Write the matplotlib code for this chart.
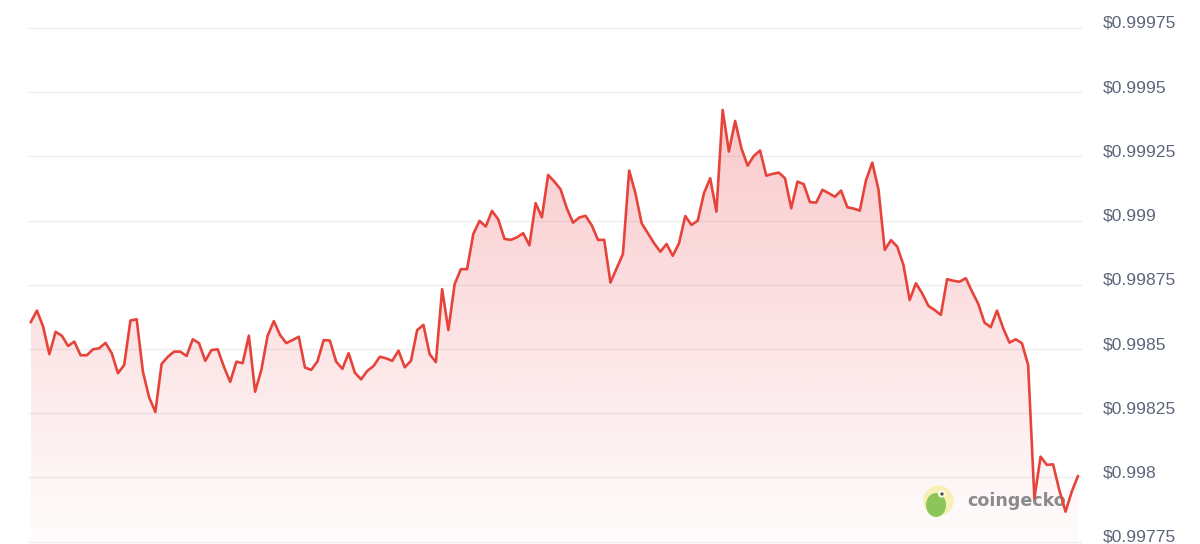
import numpy as np
import matplotlib
matplotlib.use("Agg")
import matplotlib.pyplot as plt
import matplotlib.transforms as mtransforms
from matplotlib.patches import Circle, Ellipse, Polygon

# ---- data ----
prices = [
    0.998604, 0.998650, 0.998587, 0.998480, 0.998567, 0.998552, 0.998512, 0.998529, 0.998476, 0.998476,
    0.998499, 0.998503, 0.998524, 0.998484, 0.998406, 0.998438, 0.998611, 0.998616, 0.998412, 0.998312,
    0.998255, 0.998442, 0.998470, 0.998490, 0.998490, 0.998473, 0.998538, 0.998523, 0.998454, 0.998496,
    0.998499, 0.998431, 0.998372, 0.998451, 0.998445, 0.998552, 0.998334, 0.998419, 0.998551, 0.998609,
    0.998555, 0.998523, 0.998535, 0.998548, 0.998428, 0.998419, 0.998452, 0.998535, 0.998533, 0.998451,
    0.998423, 0.998484, 0.998408, 0.998382, 0.998415, 0.998434, 0.998470, 0.998464, 0.998454, 0.998494,
    0.998429, 0.998454, 0.998574, 0.998594, 0.998480, 0.998449, 0.998733, 0.998574, 0.998752, 0.998811,
    0.998811, 0.998948, 0.998999, 0.998977, 0.999038, 0.999005, 0.998929, 0.998925, 0.998935, 0.998951,
    0.998904, 0.999068, 0.999013, 0.999178, 0.999152, 0.999122, 0.999048, 0.998992, 0.999012, 0.999019,
    0.998982, 0.998925, 0.998925, 0.998759, 0.998815, 0.998870, 0.999195, 0.999107, 0.998990, 0.998951,
    0.998912, 0.998879, 0.998909, 0.998863, 0.998912, 0.999018, 0.998983, 0.999000, 0.999107, 0.999165,
    0.999035, 0.999431, 0.999269, 0.999388, 0.999282, 0.999214, 0.999252, 0.999273, 0.999175, 0.999182,
    0.999187, 0.999165, 0.999048, 0.999152, 0.999142, 0.999072, 0.999070, 0.999120, 0.999107, 0.999093,
    0.999117, 0.999052, 0.999047, 0.999039, 0.999158, 0.999226, 0.999120, 0.998886, 0.998924, 0.998899,
    0.998827, 0.998691, 0.998756, 0.998717, 0.998668, 0.998652, 0.998633, 0.998772, 0.998766, 0.998762,
    0.998776, 0.998724, 0.998676, 0.998603, 0.998585, 0.998650, 0.998581, 0.998525, 0.998538, 0.998523,
    0.998438, 0.997919, 0.998081, 0.998049, 0.998051, 0.997951, 0.997867, 0.997945, 0.998006,
]
tick_values = [0.99775, 0.998, 0.99825, 0.9985, 0.99875, 0.999, 0.99925, 0.9995, 0.99975]
tick_labels = ["\\$0.99775", "\\$0.998", "\\$0.99825", "\\$0.9985", "\\$0.99875",
               "\\$0.999", "\\$0.99925", "\\$0.9995", "\\$0.99975"]
watermark = "coingecko"

# ---- styling ----
LINE_COLOR = "#e6443b"
FILL_RGB = (234 / 255, 57 / 255, 67 / 255)
GRID_COLOR = "#eeeeee"
LABEL_COLOR = "#5b6679"

W, H = 1200, 544
fig = plt.figure(figsize=(W / 100, H / 100), dpi=100)
fig.patch.set_facecolor("white")
ax = fig.add_axes([28 / W, 0, 1054 / W, 1])
ax.set_facecolor("white")

x = np.arange(len(prices))
ylo, yhi = 0.997741, 0.999859
xlo, xhi = -0.43, len(prices) - 1 + 0.64

# gradient fill under the line
verts = [(x[0], ylo)] + list(zip(x, prices)) + [(x[-1], ylo)]
poly = Polygon(verts, closed=True, facecolor="none", edgecolor="none")
ax.add_patch(poly)
n = 256
grad = np.zeros((n, 1, 4))
grad[:, :, 0], grad[:, :, 1], grad[:, :, 2] = FILL_RGB
grad[:, 0, 3] = np.linspace(0.27, 0.015, n)
im = ax.imshow(grad, aspect="auto", extent=[x[0], x[-1], ylo, max(prices)],
               origin="upper", zorder=1, interpolation="bilinear")
im.set_clip_path(poly)

# watermark (under the line)
tr = fig.dpi_scale_trans
ax.add_patch(Circle((9.383, (H - 500.7) / 100), 0.152, transform=tr,
                    facecolor="#f7f0b4", edgecolor="none", zorder=1.5))
ax.add_patch(Ellipse((9.36, (H - 505) / 100), 0.2, 0.24, transform=tr,
                     facecolor="#8cc65a", edgecolor="none", zorder=1.6))
ax.add_patch(Circle((9.415, (H - 494) / 100), 0.035, transform=tr,
                    facecolor="white", edgecolor="none", zorder=1.7))
ax.add_patch(Circle((9.42, (H - 494) / 100), 0.017, transform=tr,
                    facecolor="#4a5a3a", edgecolor="none", zorder=1.8))
ax.text(9.67, (H - 500.7) / 100, watermark, transform=tr, ha="left", va="center",
        fontsize=12.6, fontweight="bold", family="DejaVu Sans", color="#8a8a8a",
        zorder=1.9)

# line
ax.plot(x, prices, color=LINE_COLOR, lw=1.9, zorder=3, solid_capstyle="round")

# axes styling
ax.set_xlim(xlo, xhi)
ax.set_ylim(ylo, yhi)
ax.set_xticks([])
ax.set_yticks(tick_values)
ax.set_yticklabels(tick_labels)
ax.yaxis.tick_right()
ax.yaxis.grid(True, color=GRID_COLOR, lw=1)
ax.set_axisbelow(True)
ax.tick_params(axis="y", length=0, pad=15, labelsize=12.6, labelcolor=LABEL_COLOR)
for lab in ax.get_yticklabels():
    lab.set_family("Liberation Sans")
    lab.set_transform(lab.get_transform() + mtransforms.ScaledTranslation(0, 6 / 100, tr))
for s in ax.spines.values():
    s.set_visible(False)

fig.savefig("out.png", dpi=100, facecolor="white")
